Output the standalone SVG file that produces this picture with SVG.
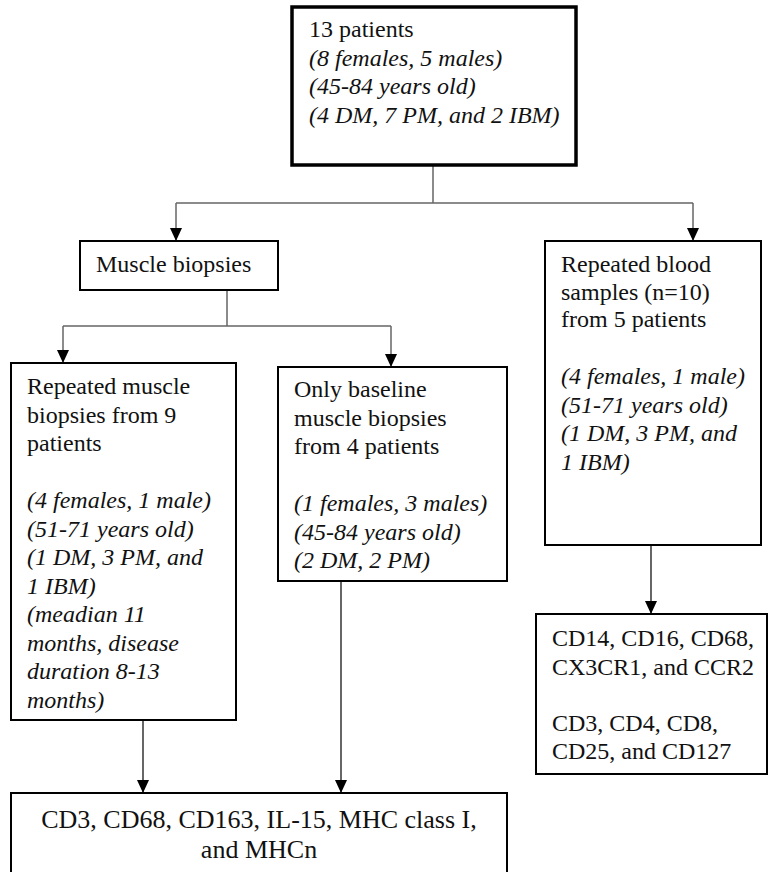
<svg xmlns="http://www.w3.org/2000/svg" width="768" height="872" viewBox="0 0 768 872">
<defs>
<style>
.box{fill:#fff;stroke:#000;stroke-width:2}
.main{fill:#fff;stroke:#000;stroke-width:3.5}
.i{font-style:italic}
.c1{fill:none;stroke:#666;stroke-width:1.5}
.c2{fill:none;stroke:#000;stroke-width:1.2}
</style>
<marker id="ah" markerUnits="userSpaceOnUse" markerWidth="14" markerHeight="12" refX="13" refY="6" orient="auto" viewBox="0 0 14 12">
<path d="M0,0 L13,6 L0,12 Z" fill="#000"/>
</marker>
</defs>
<g id="connectors">
<path class="c1" d="M433,166 V203 M176,203 H693"/>
<path class="c1" d="M176,203 V241" marker-end="url(#ah)"/>
<path class="c1" d="M693,203 V241" marker-end="url(#ah)"/>
<path class="c1" d="M227,290 V326 M63,326 H391"/>
<path class="c1" d="M63,326 V363" marker-end="url(#ah)"/>
<path class="c1" d="M391,326 V367" marker-end="url(#ah)"/>
<path class="c2" d="M143,720 V793" marker-end="url(#ah)"/>
<path class="c2" d="M341,581 V793" marker-end="url(#ah)"/>
<path class="c2" d="M651,545 V614" marker-end="url(#ah)"/>
</g>
<g font-family="Times New Roman, Liberation Serif, Tinos, Noto Serif, DejaVu Serif, serif" font-size="24" fill="#111">
<g id="patients">
<rect class="main" x="292" y="7" width="284" height="158"/>
<text x="309" y="37">13 patients</text>
<text class="i" x="309" y="66">(8 females, 5 males)</text>
<text class="i" x="309" y="94">(45-84 years old)</text>
<text class="i" x="309" y="123">(4 DM, 7 PM, and 2 IBM)</text>
</g>
<g id="muscle-biopsies">
<rect class="box" x="80" y="241" width="198" height="49"/>
<text x="96" y="272">Muscle biopsies</text>
</g>
<g id="blood-samples">
<rect class="box" x="545" y="241" width="216" height="304"/>
<text x="561" y="272">Repeated blood</text>
<text x="561" y="299.5">samples (n=10)</text>
<text x="561" y="327">from 5 patients</text>
<text class="i" x="561" y="384">(4 females, 1 male)</text>
<text class="i" x="561" y="413">(51-71 years old)</text>
<text class="i" x="561" y="441">(1 DM, 3 PM, and</text>
<text class="i" x="561" y="470">1 IBM)</text>
</g>
<g id="repeated-biopsies">
<rect class="box" x="11" y="363" width="225" height="357"/>
<text x="27" y="394">Repeated muscle</text>
<text x="27" y="422.5">biopsies from 9</text>
<text x="27" y="451">patients</text>
<text class="i" x="27" y="508">(4 females, 1 male)</text>
<text class="i" x="27" y="536.5">(51-71 years old)</text>
<text class="i" x="27" y="565">(1 DM, 3 PM, and</text>
<text class="i" x="27" y="593.5">1 IBM)</text>
<text class="i" x="27" y="622">(meadian 11</text>
<text class="i" x="27" y="650.5">months, disease</text>
<text class="i" x="27" y="679">duration 8-13</text>
<text class="i" x="27" y="707.5">months)</text>
</g>
<g id="baseline-biopsies">
<rect class="box" x="278" y="367" width="229" height="214"/>
<text x="294" y="397">Only baseline</text>
<text x="294" y="425.5">muscle biopsies</text>
<text x="294" y="454">from 4 patients</text>
<text class="i" x="294" y="511">(1 females, 3 males)</text>
<text class="i" x="294" y="539.5">(45-84 years old)</text>
<text class="i" x="294" y="568">(2 DM, 2 PM)</text>
</g>
<g id="blood-markers">
<rect class="box" x="536" y="614" width="231" height="160"/>
<text x="552" y="646">CD14, CD16, CD68,</text>
<text x="552" y="674.5">CX3CR1, and CCR2</text>
<text x="552" y="731">CD3, CD4, CD8,</text>
<text x="552" y="759">CD25, and CD127</text>
</g>
<g id="muscle-markers">
<rect class="box" x="11" y="793" width="496" height="90"/>
<text x="259" y="828" text-anchor="middle" font-size="26">CD3, CD68, CD163, IL-15, MHC class I,</text>
<text x="259" y="858" text-anchor="middle" font-size="26">and MHCn</text>
</g>
</g>
</svg>
